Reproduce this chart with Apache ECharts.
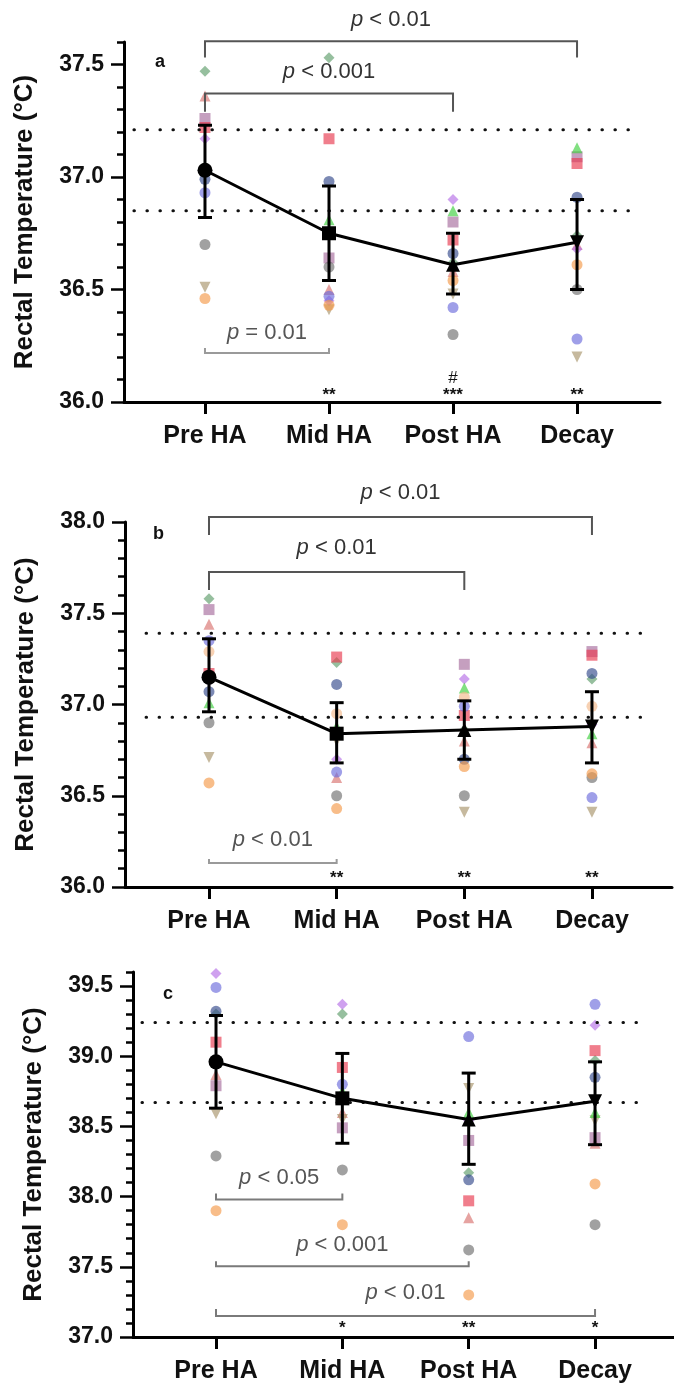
<!DOCTYPE html>
<html><head><meta charset="utf-8">
<script src="https://cdn.jsdelivr.net/npm/echarts@6/dist/echarts.min.js"></script>
<style>html,body{margin:0;padding:0;background:#fff}#c{width:674px;height:1389px}</style>
</head><body><div id="c"></div>
<script>
// ---------------- data ----------------
const categories = ['Pre HA', 'Mid HA', 'Post HA', 'Decay'];
const panelLetters = ['a', 'b', 'c'];
const yTitle = 'Rectal Temperature (°C)';
const yTicksA = [36.0, 36.5, 37.0, 37.5];
const yTicksB = [36.0, 36.5, 37.0, 37.5, 38.0];
const yTicksC = [37.0, 37.5, 38.0, 38.5, 39.0, 39.5];

// individual participants (rows = participants P1..P12, cols = Pre, Mid, Post, Decay)
const indivA = [
  [37.47, 37.53, 36.62, 36.74],
  [37.36, 36.50, 36.58, 36.70],
  [37.26, 36.64, 36.80, 37.09],
  [37.22, 37.17, 36.72, 37.06],
  [37.17, 36.45, 36.90, 36.68],
  [36.93, 36.47, 36.42, 36.28],
  [36.99, 36.98, 36.66, 36.91],
  [36.70, 36.60, 36.30, 36.50],
  [36.51, 36.41, 36.48, 36.20],
  [36.46, 36.43, 36.54, 36.61],
  [37.05, 36.81, 36.85, 37.13],
  [null, null, null, null]
];
const indivB = [
  [37.58, 37.23, 36.86, 37.14],
  [37.44, 36.60, 36.80, 36.79],
  [37.52, 36.84, 37.22, 37.29],
  [37.17, 37.26, 36.94, 37.27],
  [37.13, 36.70, 37.14, 36.89],
  [37.35, 36.63, 36.99, 36.49],
  [37.07, 37.11, 36.70, 37.17],
  [36.90, 36.50, 36.50, 36.60],
  [36.71, 36.80, 36.41, 36.41],
  [36.57, 36.43, 36.66, 36.62],
  [37.01, 36.88, 37.09, 36.84],
  [37.29, 36.95, 37.04, 36.99]
];
const indivC = [
  [39.30, 39.30, 38.17, 38.97],
  [38.87, 38.60, 37.85, 38.38],
  [38.79, 38.49, 38.40, 38.42],
  [39.10, 38.92, 37.97, 39.04],
  [39.59, 39.37, 38.54, 39.22],
  [39.49, 38.80, 39.14, 39.37],
  [39.32, 38.70, 38.12, 38.85],
  [38.29, 38.19, 37.62, 37.80],
  [38.59, 38.55, 38.77, 38.54],
  [37.90, 37.80, 37.30, 38.09],
  [38.96, 38.75, 38.60, 38.60],
  [null, null, null, null]
];

// group mean and error bar limits
const meanA = [37.03, 36.75, 36.61, 36.71];
const lowA  = [36.82, 36.54, 36.48, 36.50];
const highA = [37.23, 36.96, 36.75, 36.90];
const meanB = [37.15, 36.84, 36.86, 36.88];
const lowB  = [36.96, 36.68, 36.70, 36.68];
const highB = [37.36, 37.01, 37.02, 37.07];
const meanC = [38.96, 38.70, 38.55, 38.68];
const lowC  = [38.63, 38.38, 38.23, 38.37];
const highC = [39.29, 39.02, 38.88, 38.96];

// reference (dotted) lines
const refA = [37.21, 36.85];
const refB = [37.39, 36.93];
const refC = [39.24, 38.67];

// comparisons: [from category, to category, p text]
const compA = [['Pre HA', 'Decay', '< 0.01'], ['Pre HA', 'Post HA', '< 0.001'], ['Pre HA', 'Mid HA', '= 0.01']];
const compB = [['Pre HA', 'Decay', '< 0.01'], ['Pre HA', 'Post HA', '< 0.01'], ['Pre HA', 'Mid HA', '< 0.01']];
const compC = [['Pre HA', 'Mid HA', '< 0.05'], ['Pre HA', 'Post HA', '< 0.001'], ['Pre HA', 'Decay', '< 0.01']];

// significance marks under categories
const starsA = ['', '**', '***', '**'];
const hashA  = ['', '', '#', ''];
const starsB = ['', '**', '**', '**'];
const hashB  = ['', '', '', ''];
const starsC = ['', '*', '**', '*'];
const hashC  = ['', '', '', ''];

// ---------------- styling / layout ----------------
const downTri = 'path://M0,0L10,0L5,9Z';
const partStyle = [
  {c: '#5e9c6a', s: 'diamond'},
  {c: '#d9726e', s: 'triangle'},
  {c: '#a66c9c', s: 'rect'},
  {c: '#e8394f', s: 'rect'},
  {c: '#b56ee6', s: 'diamond'},
  {c: '#6c6cdc', s: 'circle'},
  {c: '#34498c', s: 'circle'},
  {c: '#6e6e6e', s: 'circle'},
  {c: '#a8946a', s: downTri},
  {c: '#f59a4a', s: 'circle'},
  {c: '#3ecf3e', s: 'triangle'},
  {c: '#f2b88a', s: 'circle'}
];
const meanSymbols = ['circle', 'rect', 'triangle', downTri];
const meanSizes = [15, 14, 14, 14];

const FONT = 'Liberation Sans, Arial, sans-serif';

const panels = [
  {grid: {left: 124, top: 42, width: 536, height: 360}, xmin: 0.347, xmax: 4.669, ymin: 36.0, ymax: 37.6,
   ticks: yTicksA, indiv: indivA, mean: meanA, low: lowA, high: highA, ref: refA, refX: [0.427, 4.427],
   comp: compA, stars: starsA, hash: hashA,
   brk: [{line: 37.603, tip: 37.531, text: 37.70, col: '#555', tcol: '#333'},
         {line: 37.371, tip: 37.29, text: 37.469, col: '#555', tcol: '#333'},
         {line: 36.218, tip: 36.24, text: 36.307, col: '#9a9a9a', tcol: '#555'}],
   starY: 36.03, hashY: 36.107, nameGap: 86, letter: {x: 150, y: 48}},
  {grid: {left: 125, top: 522, width: 547, height: 365}, xmin: 0.342, xmax: 4.627, ymin: 36.0, ymax: 38.0,
   ticks: yTicksB, indiv: indivB, mean: meanB, low: lowB, high: highB, ref: refB, refX: [0.507, 4.423],
   comp: compB, stars: starsB, hash: hashB,
   brk: [{line: 38.027, tip: 37.929, text: 38.159, col: '#555', tcol: '#333'},
         {line: 37.726, tip: 37.627, text: 37.858, col: '#555', tcol: '#333'},
         {line: 36.132, tip: 36.153, text: 36.258, col: '#9a9a9a', tcol: '#555'}],
   starY: 36.05, hashY: 36.13, nameGap: 86, letter: {x: 148, y: 520}},
  {grid: {left: 133, top: 972, width: 541, height: 365}, xmin: 0.343, xmax: 4.625, ymin: 37.0, ymax: 39.6,
   ticks: yTicksC, indiv: indivC, mean: meanC, low: lowC, high: highC, ref: refC, refX: [0.414, 4.42],
   comp: compC, stars: starsC, hash: hashC,
   brk: [{line: 37.98, tip: 38.023, text: 38.136, col: '#7a7a7a', tcol: '#555'},
         {line: 37.504, tip: 37.54, text: 37.653, col: '#7a7a7a', tcol: '#555'},
         {line: 37.149, tip: 37.199, text: 37.3125, col: '#7a7a7a', tcol: '#555'}],
   starY: 37.064, hashY: 37.14, nameGap: 86, letter: {x: 158, y: 980}}
];

const grids = [], xAxes = [], yAxes = [], series = [], titles = [];
const catPos = name => categories.indexOf(name) + 1;

panels.forEach((p, i) => {
  grids.push(p.grid);
  xAxes.push({
    gridIndex: i, type: 'value', min: p.xmin, max: p.xmax,
    axisLine: {show: true, onZero: false, lineStyle: {color: '#000', width: 3}},
    axisTick: {show: true, customValues: [1, 2, 3, 4], length: 12, lineStyle: {color: '#000', width: 3}},
    axisLabel: {show: true, customValues: [1, 2, 3, 4], formatter: v => categories[Math.round(v) - 1],
      fontFamily: FONT, fontWeight: 'bold', fontSize: 25, color: '#111', margin: 22},
    splitLine: {show: false}
  });
  yAxes.push({
    gridIndex: i, type: 'value', min: p.ymin, max: p.ymax, interval: 0.5, position: 'left',
    axisLine: {show: true, onZero: false, lineStyle: {color: '#000', width: 3}},
    axisTick: {show: true, customValues: p.ticks, length: 13, lineStyle: {color: '#000', width: 2.5}},
    axisLabel: {show: true, customValues: p.ticks, formatter: v => Number(v).toFixed(1),
      fontFamily: FONT, fontWeight: 'bold', fontSize: 23, color: '#111', margin: 20},
    splitLine: {show: false},
    name: yTitle, nameLocation: 'middle', nameGap: p.nameGap,
    nameTextStyle: {fontFamily: FONT, fontWeight: 'bold', fontSize: 26, color: '#111'}
  });
  yAxes.push({
    gridIndex: i, type: 'value', min: p.ymin, max: p.ymax, interval: 0.1, position: 'left',
    axisLine: {show: false, onZero: false},
    axisTick: {show: true, length: 7, lineStyle: {color: '#000', width: 2.5}},
    axisLabel: {show: false}, splitLine: {show: false}
  });
  const xi = i, yi = i * 2;

  // individual participants
  p.indiv.forEach((row, k) => {
    const data = [];
    row.forEach((v, j) => { if (v !== null) data.push([j + 1, v]); });
    if (!data.length) return;
    series.push({
      type: 'scatter', xAxisIndex: xi, yAxisIndex: yi, data: data, z: 2, clip: false,
      symbol: partStyle[k].s, symbolSize: 11, silent: true,
      itemStyle: {color: partStyle[k].c, opacity: 0.65}
    });
  });

  // dotted reference lines
  series.push({
    type: 'custom', xAxisIndex: xi, yAxisIndex: yi, z: 3, silent: true,
    data: p.ref.map(v => [p.refX[0], p.refX[1], v]),
    encode: {x: [0, 1], y: 2},
    renderItem: (params, api) => {
      const a = api.coord([api.value(0), api.value(2)]);
      const b = api.coord([api.value(1), api.value(2)]);
      return {type: 'line', shape: {x1: a[0], y1: a[1], x2: b[0], y2: b[1]},
        style: {stroke: '#111', lineWidth: 3, lineDash: [0.5, 12.5], lineCap: 'round'}};
    }
  });

  // error bars
  series.push({
    type: 'custom', xAxisIndex: xi, yAxisIndex: yi, z: 5, silent: true,
    data: p.mean.map((m, j) => [j + 1, p.low[j], p.high[j]]),
    encode: {x: 0, y: [1, 2]},
    renderItem: (params, api) => {
      const x = api.value(0);
      const lo = api.coord([x, api.value(1)]), hi = api.coord([x, api.value(2)]);
      const hw = 7, st = {stroke: '#000', lineWidth: 3};
      return {type: 'group', children: [
        {type: 'line', shape: {x1: lo[0], y1: lo[1], x2: hi[0], y2: hi[1]}, style: st},
        {type: 'line', shape: {x1: hi[0] - hw, y1: hi[1], x2: hi[0] + hw, y2: hi[1]}, style: st},
        {type: 'line', shape: {x1: lo[0] - hw, y1: lo[1], x2: lo[0] + hw, y2: lo[1]}, style: st}
      ]};
    }
  });

  // mean line
  series.push({
    type: 'line', xAxisIndex: xi, yAxisIndex: yi, z: 6, silent: true,
    data: p.mean.map((m, j) => ({value: [j + 1, m], symbol: meanSymbols[j], symbolSize: meanSizes[j]})),
    lineStyle: {color: '#000', width: 3},
    itemStyle: {color: '#000', borderColor: '#000', borderWidth: 0},
    showSymbol: true
  });

  // comparison brackets with p labels
  series.push({
    type: 'custom', xAxisIndex: xi, yAxisIndex: yi, z: 4, silent: true,
    data: p.comp.map((c, k) => [catPos(c[0]), catPos(c[1]), p.brk[k].line]),
    encode: {x: [0, 1], y: 2},
    renderItem: (params, api) => {
      const b = p.brk[params.dataIndex];
      const c = p.comp[params.dataIndex];
      const x1 = api.value(0), x2 = api.value(1);
      const a1 = api.coord([x1, b.tip]), a2 = api.coord([x1, b.line]);
      const a3 = api.coord([x2, b.line]), a4 = api.coord([x2, b.tip]);
      const t = api.coord([(x1 + x2) / 2, b.text]);
      return {type: 'group', children: [
        {type: 'polyline', shape: {points: [a1, a2, a3, a4]},
          style: {stroke: b.col, lineWidth: 2, fill: null}},
        {type: 'text', x: t[0], y: t[1], style: {
          text: '{i|p} ' + c[2], fill: b.tcol, font: '22px ' + FONT,
          align: 'center', verticalAlign: 'middle',
          rich: {i: {fontStyle: 'italic', fontSize: 22, fontFamily: FONT, fill: b.tcol}}
        }}
      ]};
    }
  });

  // significance symbols
  series.push({
    type: 'custom', xAxisIndex: xi, yAxisIndex: yi, z: 4, silent: true,
    data: p.stars.map((s, j) => [j + 1, p.starY]),
    encode: {x: 0, y: 1},
    renderItem: (params, api) => {
      const j = params.dataIndex;
      const s = api.coord([api.value(0), p.starY]);
      const h = api.coord([api.value(0), p.hashY]);
      return {type: 'group', children: [
        {type: 'text', x: s[0], y: s[1], style: {text: p.stars[j], fill: '#111',
          font: 'bold 17px ' + FONT, align: 'center', verticalAlign: 'middle'}},
        {type: 'text', x: h[0], y: h[1], style: {text: p.hash[j], fill: '#111',
          font: '17px ' + FONT, align: 'center', verticalAlign: 'middle'}}
      ]};
    }
  });

  titles.push({text: panelLetters[i], left: p.letter.x, top: p.letter.y,
    textStyle: {fontFamily: FONT, fontWeight: 'bold', fontSize: 18, color: '#111'}});
});

const chart = echarts.init(document.getElementById('c'), null, {renderer: 'canvas'});
chart.setOption({
  animation: false,
  backgroundColor: '#fff',
  title: titles,
  grid: grids,
  xAxis: xAxes,
  yAxis: yAxes,
  series: series
});
</script></body></html>
